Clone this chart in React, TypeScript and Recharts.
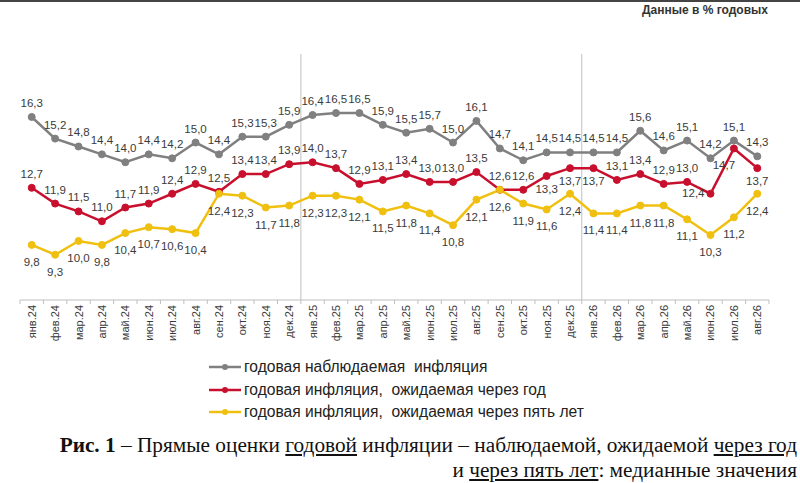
import { LineChart, Line, XAxis, YAxis, ReferenceLine } from 'recharts'

const months = [
  'янв.24', 'фев.24', 'мар.24', 'апр.24', 'май.24', 'июн.24', 'июл.24', 'авг.24',
  'сен.24', 'окт.24', 'ноя.24', 'дек.24', 'янв.25', 'фев.25', 'мар.25', 'апр.25',
  'май.25', 'июн.25', 'июл.25', 'авг.25', 'сен.25', 'окт.25', 'ноя.25', 'дек.25',
  'янв.26', 'фев.26', 'мар.26', 'апр.26', 'май.26', 'июн.26', 'июл.26', 'авг.26',
]

const observed = [
  16.3, 15.2, 14.8, 14.4, 14.0, 14.4, 14.2, 15.0, 14.4, 15.3, 15.3, 15.9, 16.4, 16.5, 16.5, 15.9,
  15.5, 15.7, 15.0, 16.1, 14.7, 14.1, 14.5, 14.5, 14.5, 14.5, 15.6, 14.6, 15.1, 14.2, 15.1, 14.3,
]

const expectedYear = [
  12.7, 11.9, 11.5, 11.0, 11.7, 11.9, 12.4, 12.9, 12.5, 13.4, 13.4, 13.9, 14.0, 13.7, 12.9, 13.1,
  13.4, 13.0, 13.0, 13.5, 12.6, 12.6, 13.3, 13.7, 13.7, 13.1, 13.4, 12.9, 13.0, 12.4, 14.7, 13.7,
]

const expectedFiveYears = [
  9.8, 9.3, 10.0, 9.8, 10.4, 10.7, 10.6, 10.4, 12.4, 12.3, 11.7, 11.8, 12.3, 12.3, 12.1, 11.5,
  11.8, 11.4, 10.8, 12.1, 12.6, 11.9, 11.6, 12.4, 11.4, 11.4, 11.8, 11.8, 11.1, 10.3, 11.2, 12.4,
]

// where the red labels sit off their default spot above the point
const redLabelBelow = [22, 23, 24, 31]
const redLabelLeft = [29]
const redLabelBelowLeft = [30]

const yearSplits = ['дек.24', 'дек.25']

const series = [
  { key: 'observed', name: 'годовая наблюдаемая  инфляция', color: '#808080' },
  { key: 'oneYear', name: 'годовая инфляция,  ожидаемая через год', color: '#c8102e' },
  { key: 'fiveYears', name: 'годовая инфляция,  ожидаемая через пять лет', color: '#f0c010' },
]

const data = months.map((month, i) => ({
  month,
  observed: observed[i],
  oneYear: expectedYear[i],
  fiveYears: expectedFiveYears[i],
}))

const CHART_W = 800
const CHART_H = 360
const MARGIN = { top: 54, right: 31, bottom: 10, left: 20 }
const BAND = (CHART_W - MARGIN.left - MARGIN.right) / months.length
const SANS = '"Liberation Sans", Arial, sans-serif'
const TEXT = '#3a3a3a'

const fmt = (v: number) => v.toFixed(1).replace('.', ',')

function MonthTick({ x, y, payload, index }: any) {
  return (
    <g>
      <line x1={x - BAND / 2} x2={x - BAND / 2} y1={y} y2={y + 4} stroke="#bfbfbf" />
      {index === months.length - 1 && (
        <line x1={x + BAND / 2} x2={x + BAND / 2} y1={y} y2={y + 4} stroke="#bfbfbf" />
      )}
      <text
        transform={`translate(${x},${y + 5}) rotate(-90)`}
        textAnchor="end"
        dominantBaseline="central"
        fontSize={11}
        fontFamily={SANS}
        fill={TEXT}
      >
        {payload.value}
      </text>
    </g>
  )
}

function makeLabel(place: (i: number) => [number, number, string]) {
  return (props: any) => {
    const { x, y, value, index } = props
    const [dx, dy, anchor] = place(index)
    return (
      <text
        key={index}
        x={x + dx}
        y={y + dy}
        textAnchor={anchor}
        dominantBaseline="central"
        fontSize={11.5}
        fontFamily={SANS}
        fill={TEXT}
      >
        {fmt(value)}
      </text>
    )
  }
}

const grayLabel = makeLabel(() => [0, -14, 'middle'])
const redLabel = makeLabel((i) => {
  if (redLabelBelow.includes(i)) return [0, 13, 'middle']
  if (redLabelLeft.includes(i)) return [-6, -1, 'end']
  if (redLabelBelowLeft.includes(i)) return [-10, 17, 'middle']
  return [0, -14, 'middle']
})
const yellowLabel = makeLabel(() => [0, 17, 'middle'])
const labels = [grayLabel, redLabel, yellowLabel]

export default function App() {
  return (
    <div
      style={{
        position: 'absolute',
        left: 0,
        top: 0,
        width: 800,
        height: 483,
        background: '#fff',
        overflow: 'hidden',
        borderTop: '2px solid #444',
        boxSizing: 'border-box',
      }}
    >
      <div
        style={{
          position: 'absolute',
          right: 32,
          top: 1,
          fontFamily: SANS,
          fontSize: 12,
          fontWeight: 'bold',
          color: '#333',
        }}
      >
        Данные в % годовых
      </div>

      <div style={{ position: 'absolute', left: 0, top: -2 }}>
        <LineChart width={CHART_W} height={CHART_H} data={data} margin={MARGIN}>
          <XAxis
            dataKey="month"
            scale="band"
            interval={0}
            height={50}
            tickSize={0}
            tickMargin={0}
            tickLine={false}
            axisLine={{ stroke: '#bfbfbf' }}
            tick={<MonthTick />}
          />
          <YAxis hide domain={[7, 19.5]} />
          {yearSplits.map((m) => (
            <ReferenceLine key={m} x={m} position="end" stroke="#c0c0c0" strokeWidth={1} />
          ))}
          {series.map((s, i) => (
            <Line
              key={s.key}
              dataKey={s.key}
              name={s.name}
              type="linear"
              stroke={s.color}
              strokeWidth={2.5}
              dot={{ r: 3.5, fill: s.color, stroke: s.color, strokeWidth: 1 }}
              label={labels[i]}
              isAnimationActive={false}
            />
          ))}
        </LineChart>
      </div>

      <div style={{ position: 'absolute', left: 209, top: 354, fontFamily: SANS, fontSize: 15.6, color: '#222' }}>
        {series.map((s) => (
          <div key={s.key} style={{ display: 'flex', alignItems: 'center', height: 22.5 }}>
            <svg width={32} height={10} style={{ marginRight: 3 }}>
              <line x1={0} x2={32} y1={5} y2={5} stroke={s.color} strokeWidth={2.5} />
              <circle cx={16} cy={5} r={3} fill={s.color} />
            </svg>
            <span style={{ whiteSpace: 'pre' }}>{s.name}</span>
          </div>
        ))}
      </div>

      <div
        style={{
          position: 'absolute',
          right: 3,
          top: 431,
          textAlign: 'right',
          fontFamily: '"Liberation Serif", "Times New Roman", serif',
          fontSize: 21.3,
          lineHeight: '25px',
          color: '#111',
          whiteSpace: 'nowrap',
        }}
      >
        <div>
          <b>Рис. 1</b> – Прямые оценки <u>годовой</u> инфляции – наблюдаемой, ожидаемой <u>через год</u>
        </div>
        <div>
          и <u>через пять лет</u>: медианные значения
        </div>
      </div>
    </div>
  )
}
